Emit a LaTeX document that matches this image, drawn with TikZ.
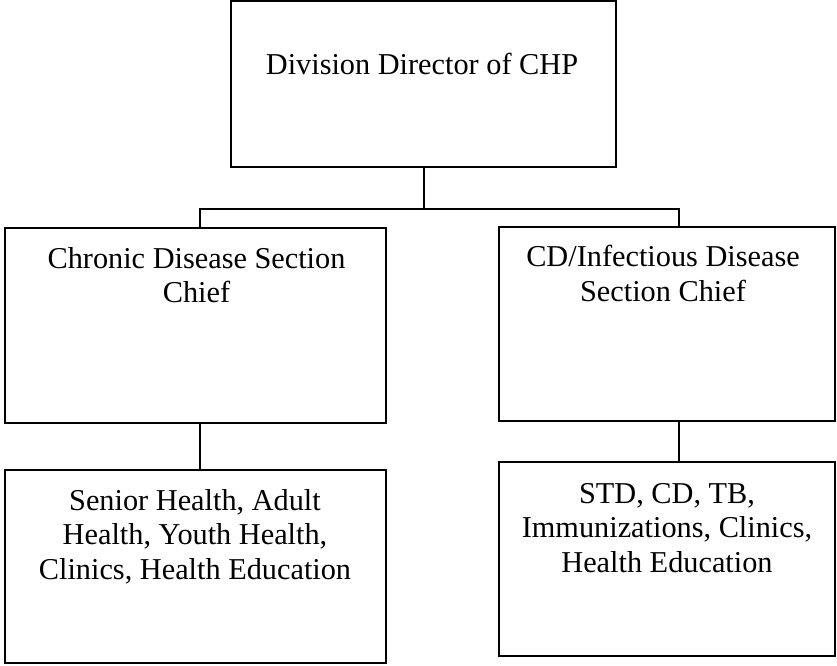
\documentclass[tikz,border=0pt]{standalone}
\usepackage{fontspec}
\setmainfont{Liberation Serif}
\begin{document}
\begin{tikzpicture}[x=1pt,y=-1pt,
  orgbox/.style={draw=black, line width=2pt, inner sep=0pt, fill=none},
  orgtext/.style={align=center, inner sep=0pt, anchor=base,
    font=\fontsize{30.3}{34.5}\selectfont},
  link/.style={draw=black, line width=2pt}]
\useasboundingbox (0,0) rectangle (837,665);
% boxes (corner to corner)
\node[orgbox, minimum width=385pt, minimum height=166pt] (dir) at (423.5,84) {};
\node[orgbox, minimum width=381pt, minimum height=195pt] (chron) at (195.5,325.5) {};
\node[orgbox, minimum width=336pt, minimum height=194pt] (infect) at (667,324) {};
\node[orgbox, minimum width=381pt, minimum height=193pt] (chronprog) at (195.5,566.5) {};
\node[orgbox, minimum width=336pt, minimum height=194pt] (infectprog) at (667,559) {};
% labels (anchored at the baseline of the last line)
\node[orgtext] (dirtext) at (422,74) {Division Director of CHP};
\node[orgtext] (chrontext) at (196.5,302.5) {Chronic Disease Section\\Chief};
\node[orgtext] (infecttext) at (663,301) {CD/Infectious Disease\\Section Chief};
\node[orgtext] (chronprogtext) at (195,579) {Senior Health, Adult\\Health, Youth Health,\\Clinics, Health Education};
\node[orgtext] (infectprogtext) at (667,572) {STD, CD, TB,\\Immunizations, Clinics,\\Health Education};
% connectors
\coordinate (split) at (dir.south |- 0,209);
\coordinate (lefttop) at (200,0 |- chron.north);
\coordinate (righttop) at (679,0 |- infect.north);
\draw[link] (dir.south) -- (split);
\draw[link] (lefttop) -- (lefttop |- split) -- (righttop |- split) -- (righttop);
\draw[link] (lefttop |- chron.south) -- (lefttop |- chronprog.north);
\draw[link] (righttop |- infect.south) -- (righttop |- infectprog.north);
\end{tikzpicture}
\end{document}
